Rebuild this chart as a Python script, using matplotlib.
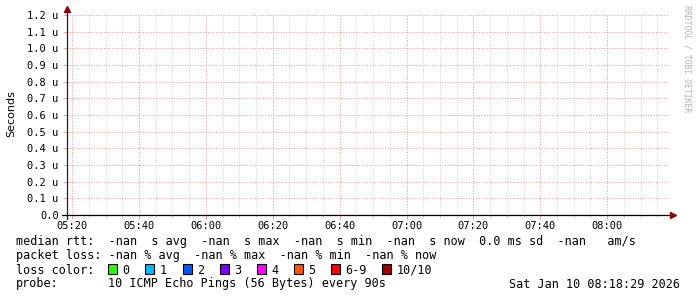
import matplotlib
matplotlib.use("Agg")
import matplotlib.pyplot as plt
import matplotlib.dates as mdates
import pandas as pd
from matplotlib.patches import Rectangle

# time window of the graph (3 hours ending at "now")
t_start = pd.Timestamp("2026-01-10 05:18:29")
t_end = pd.Timestamp("2026-01-10 08:18:29")

# y axis, in micro seconds
y_ticks = [0.0, 0.1, 0.2, 0.3, 0.4, 0.5, 0.6, 0.7, 0.8, 0.9, 1.0, 1.1, 1.2]
y_max = 1.2

# legend texts
median_line = "median rtt:  -nan  s avg  -nan  s max  -nan  s min  -nan  s now  0.0 ms sd  -nan   am/s"
loss_line = "packet loss: -nan % avg  -nan % max  -nan % min  -nan % now"
loss_labels = ["0", "1", "2", "3", "4", "5", "6-9", "10/10"]
loss_colors = ["#26ff00", "#00b8ff", "#0059ff", "#7e00ff", "#ff00ff", "#ff5500", "#ff0000", "#a10000"]
probe_text = "10 ICMP Echo Pings (56 Bytes) every 90s"
stamp = "Sat Jan 10 08:18:29 2026"

W, H = 697, 297
MONO = "DejaVu Sans Mono"
GRID_MAJOR = "#e6a3a3"
GRID_MINOR = "#d4d4d4"
ARROW = "#8b0000"


def fx(px):
    return px / W


def fy(py):
    return 1 - py / H


fig = plt.figure(figsize=(W / 100, H / 100), dpi=100, facecolor="white")
ax = fig.add_axes([fx(67), fy(215), (669 - 67) / W, 200 / H])

ax.set_xlim(t_start, t_end)
ax.set_ylim(0, y_max)

# grid
ax.xaxis.set_major_locator(mdates.MinuteLocator(byminute=[0, 20, 40]))
ax.xaxis.set_minor_locator(mdates.MinuteLocator(byminute=range(0, 60, 5)))
ax.xaxis.set_major_formatter(mdates.DateFormatter("%H:%M"))
ax.set_yticks(y_ticks)
ax.set_yticklabels(["0.0" if v == 0 else "%.1f u" % v for v in y_ticks])

ax.grid(True, which="minor", axis="x", color=GRID_MINOR, lw=0.75, ls=(0, (1, 1.5)))
ax.grid(True, which="major", axis="x", color=GRID_MAJOR, lw=0.75, ls=(0, (1, 1.5)))
ax.grid(True, which="major", axis="y", color=GRID_MAJOR, lw=0.75, ls=(0, (1, 1.5)))
ax.set_axisbelow(True)

ax.tick_params(axis="y", which="major", length=3, width=0.7, color=GRID_MAJOR, pad=3.0,
               labelsize=7.5)
ax.tick_params(axis="x", which="major", length=3, width=0.7, color=GRID_MAJOR, pad=1.0,
               labelsize=7.5)
ax.tick_params(axis="x", which="minor", length=2, width=0.7, color=GRID_MINOR)
for lab in ax.get_xticklabels() + ax.get_yticklabels():
    lab.set_family(MONO)

for s in ax.spines.values():
    s.set_visible(False)

# axes lines with arrows
ax.plot([0, 0], [-0.02, 1.025], transform=ax.transAxes, color="#222222", lw=0.9, clip_on=False)
ax.plot([-0.008, 1.004], [0, 0], transform=ax.transAxes, color="black", lw=0.9, clip_on=False)
ax.plot([0], [1.03], transform=ax.transAxes, marker="^", ms=4, color=ARROW, clip_on=False)
ax.plot([1.006], [0], transform=ax.transAxes, marker=">", ms=4, color=ARROW, clip_on=False)

# y label and watermark
fig.text(fx(11), fy(114), "Seconds", rotation=90, ha="center", va="center",
         fontsize=8, family="DejaVu Sans")
fig.text(fx(687), fy(5), "RRDTOOL / TOBI OETIKER", rotation=-90, ha="center", va="top",
         fontsize=5.9, color="#b4b4b4", family=MONO)

# legend block
fs = 8.45
fig.text(fx(16), fy(245.5), median_line, fontsize=fs, family=MONO, va="baseline")
fig.text(fx(16), fy(259.5), loss_line, fontsize=fs, family=MONO, va="baseline")
fig.text(fx(16), fy(273.5), "loss color:", fontsize=fs, family=MONO, va="baseline")
box_x = [107.5, 145, 182.5, 219.5, 256.5, 293.5, 330.5, 381.5]
for bx, lab, col in zip(box_x, loss_labels, loss_colors):
    fig.patches.append(Rectangle((fx(bx), fy(274)), 9 / W, 10 / H, transform=fig.transFigure,
                                 facecolor=col, edgecolor="black", lw=0.8))
    fig.text(fx(bx + 15), fy(273.5), lab, fontsize=fs, family=MONO, va="baseline")
fig.text(fx(16), fy(287.5), "probe:", fontsize=fs, family=MONO, va="baseline")
fig.text(fx(108), fy(287.5), probe_text, fontsize=fs, family=MONO, va="baseline")
fig.text(fx(680), fy(287.5), stamp, fontsize=fs, family=MONO, va="baseline", ha="right")

fig.savefig("out.png", dpi=100, facecolor="white")
